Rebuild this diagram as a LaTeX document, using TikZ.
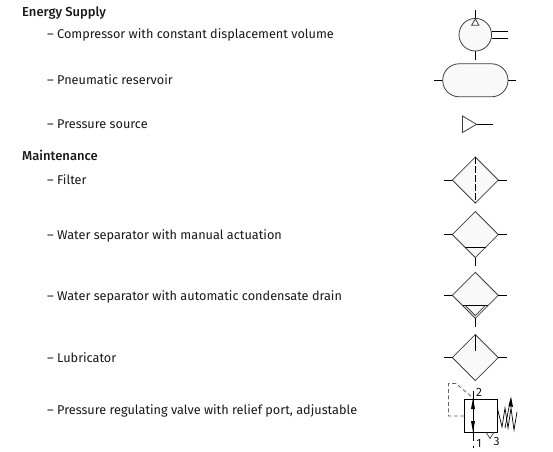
\documentclass[tikz,border=0pt]{standalone}
\usepackage{fontspec}
\setmainfont{Fira Sans}
\newfontfamily\hdfont{Fira Sans Medium}
\usetikzlibrary{arrows.meta}
\definecolor{symfill}{gray}{0.975}
\definecolor{txt}{gray}{0.1}
\tikzset{
  x=1pt,y=-1pt,
  head/.style={anchor=base west,font=\fontsize{13}{15}\hdfont,text=txt,inner sep=0pt},
  item/.style={anchor=base west,font=\fontsize{12.7}{14}\selectfont,text=txt,inner sep=0pt},
  port/.style={anchor=center,font=\fontsize{12}{13}\selectfont,text=txt,inner sep=0pt},
  sym/.style={draw=black!75,line width=0.8pt,fill=symfill,line join=miter},
  stub/.style={draw=black,line width=0.9pt},
  pilot/.style={draw=black!60,line width=0.8pt,dash pattern=on 4pt off 2.5pt},
}
\newcommand{\diam}[2]{%
  \draw[sym] (#1,#2-23) -- (#1+23,#2) -- (#1,#2+23) -- (#1-23,#2) -- cycle;
  \draw[stub] (#1-31.5,#2) -- (#1-23,#2) (#1+23,#2) -- (#1+32,#2);
}
\begin{document}
\begin{tikzpicture}
\useasboundingbox (0,0) rectangle (553,451);
\fill[white] (0,0) rectangle (553,451);
% texts
\node[head] (h1) at (22,16) {Energy Supply};
\node[item] (t1) at (47,38) {– Compressor with constant displacement volume};
\node[item] (t2) at (47,84) {– Pneumatic reservoir};
\node[item] (t3) at (47,128) {– Pressure source};
\node[head] (h2) at (22,160) {Maintenance};
\node[item] (t4) at (47,184) {– Filter};
\node[item] (t5) at (47,239) {– Water separator with manual actuation};
\node[item] (t6) at (47,300) {– Water separator with automatic condensate drain};
\node[item] (t7) at (47,362) {– Lubricator};
\node[item] (t8) at (47,414) {– Pressure regulating valve with relief port, adjustable};
% compressor
\draw[stub] (475.3,10) -- (475.3,20) (475.3,51) -- (475.3,60);
\draw[stub] (491.6,31) -- (508,31) (491.6,38.3) -- (508,38.3);
\draw[sym] (475.3,34.7) circle[radius=16.3];
\draw[draw=black!75,line width=0.8pt] (475.3,19) -- (479,25.3) -- (471.6,25.3) -- cycle;
% reservoir
\draw[stub] (434,80.3) -- (442.7,80.3) (508,80.3) -- (516,80.3);
\draw[sym,rounded corners=16.4pt] (442.7,63.8) rectangle (508,96.8);
% pressure source
\draw[stub] (476.5,124.3) -- (493,124.3);
\draw[sym,fill=white] (462.5,116) -- (476.5,124.3) -- (462.5,132.5) -- cycle;
% filter
\diam{475.3}{180}
\draw[stub,dash pattern=on 6.5pt off 2.5pt] (475.3,157) -- (475.3,203);
% water separator manual
\diam{475.3}{234.5}
\draw[stub] (465,247.3) -- (485.6,247.3);
\draw[stub] (475.3,257.5) -- (475.3,266);
% water separator automatic
\diam{475.3}{295.3}
\draw[stub] (463,305.3) -- (487.6,305.3);
\draw[draw=black!75,line width=0.8pt] (465,305.3) -- (475.3,315.5) -- (485.6,305.3);
\draw[stub] (475.3,318.3) -- (475.3,327);
% lubricator
\diam{475.3}{357.5}
\draw[stub] (475.3,334.5) -- (475.3,350.5);
% valve
\draw[pilot] (464.3,416) -- (448.5,416) -- (448.5,383.5) -- (456,383.5) -- (473,398);
\draw[draw=black,line width=1pt,fill=white] (464.3,399.3) rectangle (497.3,432.3);
\draw[stub] (473,391) -- (473,441);
\fill[black] (473,398) -- (475,409) -- (471,409) -- cycle;
\fill[black] (473,432) -- (475,421) -- (471,421) -- cycle;
\fill[black] (472.5,446) rectangle (473.5,447.5);
\draw[draw=black!75,line width=0.7pt] (486,432.3) -- (490,438.5) -- (494,432.3);
\draw[draw=black,line width=0.7pt] (497.3,408) -- (502,427) -- (505,408) -- (508,428) -- (511,408) -- (514,430) -- (517,412);
\draw[draw=black,line width=0.7pt] (505,428) -- (510,402);
\fill[black] (511,396.5) -- (513,407) -- (508.5,406) -- cycle;
\node[port] (p2) at (479,392) {2};
\node[port] (p1) at (479,443) {1};
\node[port] (p3) at (496.7,441.5) {3};
\end{tikzpicture}
\end{document}
